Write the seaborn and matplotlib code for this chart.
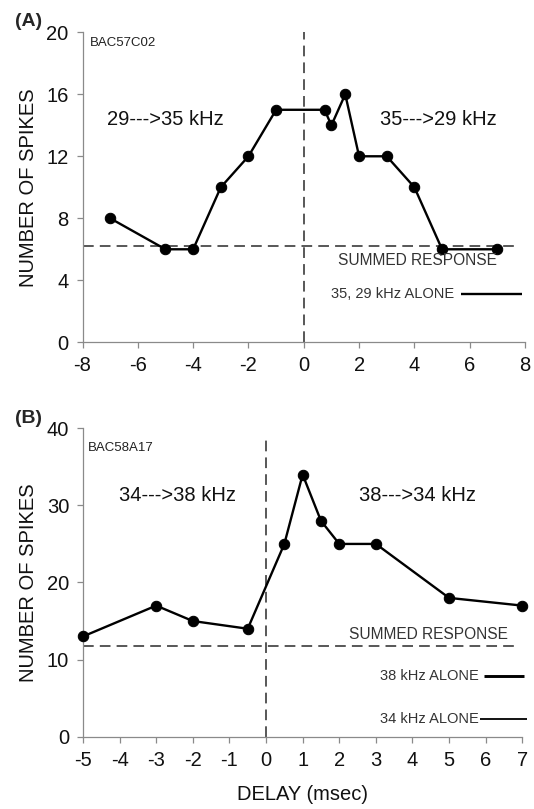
import matplotlib
matplotlib.use("Agg")
import matplotlib.pyplot as plt
import seaborn as sns
import pandas as pd

# ---- data ----
delay_a = [-7, -5, -4, -3, -2, -1, 0.75, 1, 1.5, 2, 3, 4, 5, 7]
spikes_a = [8, 6, 6, 10, 12, 15, 15, 14, 16, 12, 12, 10, 6, 6]
summed_a = 6.2
alone_a = 3.1

delay_b = [-5, -3, -2, -0.5, 0.5, 1, 1.5, 2, 3, 5, 7]
spikes_b = [13, 17, 15, 14, 25, 34, 28, 25, 25, 18, 17]
summed_b = 11.7
alone_b_38 = 7.9
alone_b_34 = 2.3

xticks_a = [-8, -6, -4, -2, 0, 2, 4, 6, 8]
yticks_a = [0, 4, 8, 12, 16, 20]
xticks_b = [-5, -4, -3, -2, -1, 0, 1, 2, 3, 4, 5, 6, 7]
yticks_b = [0, 10, 20, 30, 40]

sns.set_style("ticks")
plt.rcParams['font.family'] = ['Liberation Sans', 'DejaVu Sans']
plt.rcParams['axes.unicode_minus'] = False

fig = plt.figure(figsize=(5.34, 8.09), dpi=100)
axA = fig.add_axes([0.1545, 0.5769, 0.8287, 0.3832])
axB = fig.add_axes([0.1554, 0.0894, 0.8227, 0.3812])

spine_col = '#8a8a8a'
dash_col = '#2a2a2a'
txt_col = '#111111'

def style(ax):
    for s in ['top', 'right']:
        ax.spines[s].set_visible(False)
    for s in ['left', 'bottom']:
        ax.spines[s].set_color(spine_col)
        ax.spines[s].set_linewidth(0.9)
    ax.tick_params(axis='both', direction='out', length=4, width=0.9,
                   color=spine_col, labelsize=14.5, labelcolor=txt_col, pad=6)

# ---- Panel A ----
dfa = pd.DataFrame({'delay': delay_a, 'spikes': spikes_a})
sns.lineplot(data=dfa, x='delay', y='spikes', ax=axA, color='black', lw=1.7,
             marker='o', markersize=7.5, markeredgecolor='black', sort=False,
             clip_on=False, zorder=3)
axA.set_xlim(-8, 8)
axA.set_ylim(0, 20)
axA.set_xticks(xticks_a)
axA.set_yticks(yticks_a)
axA.axvline(0, color=dash_col, lw=1.1, dashes=(7, 4), zorder=1)
axA.hlines(summed_a, -8, 7.65, color=dash_col, lw=1.1, linestyles=(0, (7, 4)), zorder=1)
axA.hlines(alone_a, 5.7, 7.9, color='black', lw=1.7, clip_on=False)
style(axA)
axA.set_xlabel('')
axA.set_ylabel('NUMBER OF SPIKES', fontsize=14.5, color=txt_col, labelpad=6)
axA.text(-7.75, 19.3, 'BAC57C02', fontsize=9.5, color='#222222', va='center', ha='left')
axA.text(-5.0, 14.4, '29--->35 kHz', fontsize=14.5, color=txt_col, va='center', ha='center')
axA.text(4.85, 14.4, '35--->29 kHz', fontsize=14.5, color=txt_col, va='center', ha='center')
axA.text(7.0, 5.25, 'SUMMED RESPONSE', fontsize=11.2, color='#333333', va='center', ha='right')
axA.text(5.45, alone_a, '35, 29 kHz ALONE', fontsize=10.5, color='#333333', va='center', ha='right')

# ---- Panel B ----
dfb = pd.DataFrame({'delay': delay_b, 'spikes': spikes_b})
sns.lineplot(data=dfb, x='delay', y='spikes', ax=axB, color='black', lw=1.7,
             marker='o', markersize=7.5, markeredgecolor='black', sort=False,
             clip_on=False, zorder=3)
axB.set_xlim(-5, 7)
axB.set_ylim(0, 40)
axB.set_xticks(xticks_b)
axB.set_yticks(yticks_b)
axB.vlines(0, 0, 38.7, color=dash_col, lw=1.1, linestyles=(0, (7, 4)), zorder=1)
axB.hlines(summed_b, -5, 6.92, color=dash_col, lw=1.1, linestyles=(0, (7, 4)), zorder=1)
axB.hlines(alone_b_38, 5.95, 7.05, color='black', lw=2.1, clip_on=False)
axB.hlines(alone_b_34, 5.84, 7.12, color='black', lw=1.3, clip_on=False)
style(axB)
axB.set_xlabel('DELAY (msec)', fontsize=14.5, color=txt_col, labelpad=11)
axB.set_ylabel('NUMBER OF SPIKES', fontsize=14.5, color=txt_col, labelpad=6)
axB.text(-4.86, 37.5, 'BAC58A17', fontsize=9.5, color='#222222', va='center', ha='left')
axB.text(-2.43, 31.3, '34--->38 kHz', fontsize=14.5, color=txt_col, va='center', ha='center')
axB.text(4.15, 31.3, '38--->34 kHz', fontsize=14.5, color=txt_col, va='center', ha='center')
axB.text(6.6, 13.2, 'SUMMED RESPONSE', fontsize=11.2, color='#333333', va='center', ha='right')
axB.text(5.82, alone_b_38, '38 kHz ALONE', fontsize=10.5, color='#333333', va='center', ha='right')
axB.text(5.80, alone_b_34, '34 kHz ALONE', fontsize=10.5, color='#333333', va='center', ha='right')

fig.text(0.028, 0.974, '(A)', fontsize=14, fontweight='bold', va='center', ha='left')
fig.text(0.028, 0.483, '(B)', fontsize=14, fontweight='bold', va='center', ha='left')

fig.savefig('out.png', dpi=100)
